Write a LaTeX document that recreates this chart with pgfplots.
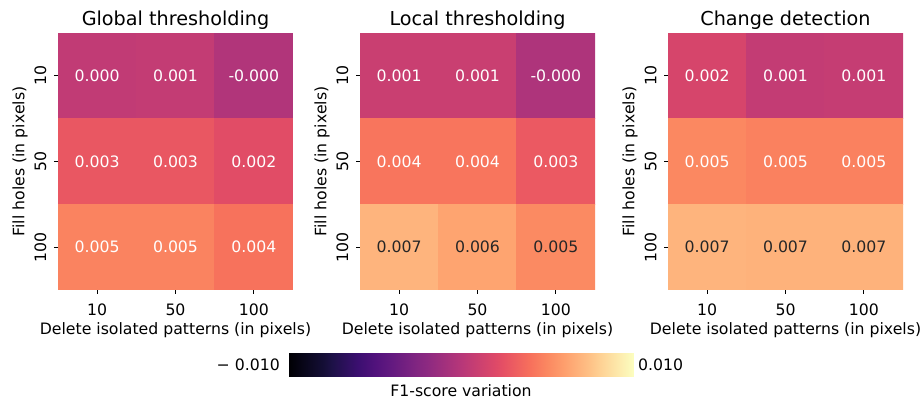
\documentclass[border=0pt]{standalone}
\usepackage{pgfplots}
\pgfplotsset{compat=1.18}
\usepackage{fontspec}
\setmainfont{DejaVu Sans}
\newcommand{\lblfont}{\fontsize{15.7}{18}\selectfont}
\newcommand{\ttlfont}{\fontsize{19.2}{22}\selectfont}
\pgfplotsset{
  colormap={magma}{rgb255(0pt)=(0,0,4) rgb255(4pt)=(20,14,54) rgb255(5pt)=(29,17,71) rgb255(8pt)=(59,15,112) rgb255(10pt)=(81,18,124) rgb255(12pt)=(100,26,128) rgb255(15pt)=(131,38,129) rgb255(16pt)=(140,41,129) rgb255(20pt)=(183,55,121) rgb255(24pt)=(222,73,104) rgb255(25pt)=(230,81,100) rgb255(28pt)=(247,112,92) rgb255(30pt)=(251,136,97) rgb255(32pt)=(254,159,109) rgb255(35pt)=(254,194,135) rgb255(36pt)=(254,207,146) rgb255(40pt)=(252,253,191)},
  hm/.style={
    anchor=south west, scale only axis, width=235pt, height=257pt,
    xmin=-0.5, xmax=2.5, ymin=-0.5, ymax=2.5, y dir=reverse,
    xtick={0,1,2}, xticklabels={10,50,100},
    ytick={0,1,2}, yticklabels={10,50,100},
    axis line style={draw=none},
    tick pos=left, tick align=outside, major tick length=4pt,
    tick style={black, line width=0.8pt},
    colormap name=magma, point meta min=-0.01, point meta max=0.01,
    tick label style={font=\lblfont},
    yticklabel style={rotate=90, anchor=south},
    xticklabel shift=6pt, yticklabel shift=4pt,
    label style={font=\lblfont},
    title style={font=\ttlfont, yshift=-6pt},
    xlabel={Delete isolated patterns (in pixels)},
    ylabel={Fill holes (in pixels)},
    /pgf/number format/assume math mode=true,
  },
  lblw/.style={draw=none, mark=none, nodes near coords, point meta=explicit symbolic,
    every node near coord/.append style={anchor=center, text=white, font=\lblfont}},
  lblb/.style={draw=none, mark=none, nodes near coords, point meta=explicit symbolic,
    every node near coord/.append style={anchor=center, text=black!85, font=\lblfont}},
}
\begin{document}
\begin{tikzpicture}[x=1pt,y=1pt]
\useasboundingbox (0,0) rectangle (924,403);
% Global thresholding
\begin{axis}[hm, at={(58pt,113pt)}, title={Global thresholding}]
\addplot[matrix plot*, mesh/cols=3, point meta=explicit] table[meta=c]{
x y c
0 0 0.0005
1 0 0.0006
2 0 -0.0003
0 1 0.0028
1 1 0.0028
2 1 0.0022
0 2 0.0048
1 2 0.0048
2 2 0.0041
};
\addplot[lblw] table[meta=l]{
x y l
0 0 0.000
1 0 0.001
2 0 -0.000
0 1 0.003
1 1 0.003
2 1 0.002
0 2 0.005
1 2 0.005
2 2 0.004
};
\end{axis}
% Local thresholding
\begin{axis}[hm, at={(360pt,113pt)}, title={Local thresholding}]
\addplot[matrix plot*, mesh/cols=3, point meta=explicit] table[meta=c]{
x y c
0 0 0.0009
1 0 0.0009
2 0 -0.0004
0 1 0.0042
1 1 0.0042
2 1 0.0029
0 2 0.0069
1 2 0.0062
2 2 0.0051
};
\addplot[lblw] table[meta=l]{
x y l
0 0 0.001
1 0 0.001
2 0 -0.000
0 1 0.004
1 1 0.004
2 1 0.003
};
\addplot[lblb] table[meta=l]{
x y l
0 2 0.007
1 2 0.006
2 2 0.005
};
\end{axis}
% Change detection
\begin{axis}[hm, at={(668pt,113pt)}, title={Change detection}]
\addplot[matrix plot*, mesh/cols=3, point meta=explicit] table[meta=c]{
x y c
0 0 0.0016
1 0 0.0006
2 0 0.0007
0 1 0.0050
1 1 0.0047
2 1 0.0047
0 2 0.0069
1 2 0.0068
2 2 0.0068
};
\addplot[lblw] table[meta=l]{
x y l
0 0 0.002
1 0 0.001
2 0 0.001
0 1 0.005
1 1 0.005
2 1 0.005
};
\addplot[lblb] table[meta=l]{
x y l
0 2 0.007
1 2 0.007
2 2 0.007
};
\end{axis}
% Colorbar
\begin{axis}[anchor=south west, at={(289pt,26pt)}, scale only axis, width=344pt, height=24pt,
  hide axis, xmin=-0.01, xmax=0.01, ymin=0, ymax=1, view={0}{90},
  colormap name=magma, point meta min=-0.01, point meta max=0.01, clip=false]
\addplot3[surf, shader=interp, point meta=x] coordinates {
(-0.01,0,0) (0.01,0,0)

(-0.01,1,0) (0.01,1,0)
};
\node[anchor=east, font=\lblfont, inner sep=0pt] at (rel axis cs:0,0.5) [xshift=-9pt] {− 0.010};
\node[anchor=west, font=\lblfont, inner sep=0pt] at (rel axis cs:1,0.5) [xshift=5pt] {0.010};
\node[anchor=north, font=\lblfont, inner sep=0pt] at (rel axis cs:0.5,0) [yshift=-7pt] {F1-score variation};
\end{axis}
\end{tikzpicture}
\end{document}
